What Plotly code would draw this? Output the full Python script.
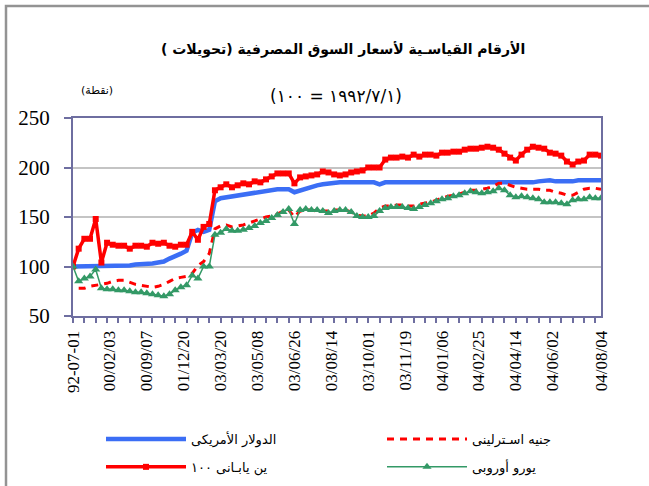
import plotly.graph_objects as go

# category index of each observation (equally spaced categories on the original axis)
idx = list(range(0, 187, 2))
gbp_idx = list(range(2, 187, 2))

usd = [100,100,101,101,101,101,101,101,101,101,
       101,102,102,103,103,104,105,108,110,113,
       116,134,137,135,137,166,169,170,171,172,
       173,174,175,176,177,177,178,178,178,175,
       177,179,181,182,183,184,184,185,185,185,
       185,185,185,185,183,185,185,185,185,184,
       185,185,185,185,184,185,185,185,185,185,
       185,185,185,185,185,185,185,185,185,185,
       185,185,186,187,187,186,186,185,186,187,
       187,187,187,187]

jpy = [100,118,128,128,148,104,124,122,121,121,
       118,121,121,120,124,123,124,121,120,122,
       122,135,127,140,143,177,180,183,180,182,
       184,183,186,185,188,191,194,194,194,184,
       190,191,192,193,196,195,193,192,193,195,
       196,197,200,200,200,208,210,210,211,210,
       213,211,213,213,212,215,215,216,216,218,
       219,219,220,221,220,218,214,210,207,213,
       218,221,220,219,215,214,212,206,203,206,
       207,213,213,212]

gbp = [78,78,80,81,82,83,85,86,86,84,
       82,81,80,79,80,82,85,88,89,90,
       93,101,105,113,138,141,142,140,141,142,
       144,146,148,150,151,153,156,157,150,156,
       157,157,156,156,156,157,157,157,155,152,
       151,151,154,159,161,161,162,162,161,161,
       163,164,165,167,169,171,172,173,175,177,
       177,178,179,181,184,184,182,180,179,178,
       178,178,177,177,175,174,172,172,175,178,
       179,179,178]

eur = [100,85,88,90,97,78,77,77,76,76,
       75,74,74,73,72,71,70,72,76,79,
       81,91,88,100,100,132,134,138,136,136,
       137,139,141,144,146,149,152,155,158,143,
       157,158,157,157,156,154,156,157,157,155,
       151,150,150,151,156,159,160,160,160,159,
       158,160,162,164,166,168,169,171,172,174,
       176,175,174,175,176,179,177,172,170,171,
       170,169,168,165,165,165,164,163,167,168,
       168,170,169,169]

tick_pos = [0, 13, 26, 39, 52, 65, 78, 91, 104, 117, 130, 143, 156, 169, 186]
tick_text = ["92-07-01", "00/02/03", "00/09/07", "01/12/20", "03/03/20", "03/05/08",
             "03/06/26", "03/08/14", "03/10/01", "03/11/19", "04/01/06", "04/02/25",
             "04/04/14", "04/06/02", "04/08/04"]
y_ticks = [50, 100, 150, 200, 250]

name_usd = "الدولار الأمريكى"
name_jpy = "ين يابـانى ١٠٠"
name_gbp = "جنيه اسـترلينى"
name_eur = "يورو أوروبى"

title_text = "الأرقام القياسـية لأسعار السوق المصرفية (تحويلات )\u200f"
subtitle_text = "\u202d(١٠٠ = ١٩٩٢/٧/١)\u202c"
unit_text = "(نقطة)"

SLATE = "#6e6ea0"
AR_FONT = "DejaVu Sans"
SERIF = "Liberation Serif"

fig = go.Figure()
fig.add_trace(go.Scatter(x=idx, y=usd, name=name_usd, mode="lines",
                         line=dict(color="#3b6ef5", width=4.5),
                         legend="legend", legendgroup="a"))
fig.add_trace(go.Scatter(x=idx, y=jpy, name=name_jpy, mode="lines+markers",
                         line=dict(color="#ff0000", width=3.5),
                         marker=dict(symbol="square", size=6, color="#ff0000"),
                         legend="legend", legendgroup="b"))
fig.add_trace(go.Scatter(x=gbp_idx, y=gbp, name=name_gbp, mode="lines",
                         line=dict(color="#ff0000", width=3, dash="7px,6px"),
                         legend="legend2", legendgroup="c"))
fig.add_trace(go.Scatter(x=idx, y=eur, name=name_eur, mode="lines+markers",
                         line=dict(color="#339966", width=1.5),
                         marker=dict(symbol="triangle-up", size=8, color="#339966"),
                         legend="legend2", legendgroup="d"))

L, R, T, B = 73, 48, 118, 170
W, H = 649, 486
pw, ph = W - L - R, H - T - B

def px(xp):
    return (xp - L) / pw

def py(yp):
    return (H - B - yp) / ph

fig.update_layout(
    width=W, height=H,
    margin=dict(l=L, r=R, t=T, b=B, pad=0, autoexpand=False),
    paper_bgcolor="white", plot_bgcolor="white",
    xaxis=dict(range=[0, 186], tickmode="array", tickvals=tick_pos, ticktext=tick_text,
               tickangle=-90, ticks="", showgrid=False, zeroline=False,
               showline=True, linecolor=SLATE, linewidth=2, mirror=True,
               ticklabelstandoff=6, automargin=False,
               tickfont=dict(family=SERIF, size=17, color="black"),
               minor=dict(tickmode="linear", tick0=0, dtick=4, ticks="outside",
                          ticklen=5, tickcolor=SLATE, tickwidth=1.5, showgrid=False)),
    yaxis=dict(range=[50, 250], tickmode="array", tickvals=y_ticks,
               ticks="outside", ticklen=7, tickcolor=SLATE, tickwidth=1.5,
               showgrid=True, gridcolor="#c4c4c4", gridwidth=1.5, zeroline=False,
               showline=True, linecolor=SLATE, linewidth=2, mirror=True,
               ticklabelstandoff=10, automargin=False,
               tickfont=dict(family=SERIF, size=21, color="black")),
    legend=dict(x=px(101), y=py(424), xanchor="left", yanchor="top",
                orientation="v", itemwidth=80, tracegroupgap=8,
                font=dict(family=AR_FONT, size=13, color="black"),
                bgcolor="rgba(0,0,0,0)"),
    legend2=dict(x=px(382), y=py(424), xanchor="left", yanchor="top",
                 orientation="v", itemwidth=80, tracegroupgap=8,
                 font=dict(family=AR_FONT, size=13, color="black"),
                 bgcolor="rgba(0,0,0,0)"),
    showlegend=True,
    annotations=[
        dict(text=title_text, x=px(343), y=py(49), xref="paper", yref="paper",
             showarrow=False, xanchor="center", yanchor="middle",
             font=dict(family=AR_FONT, size=14, color="black", weight="bold")),
        dict(text=subtitle_text, x=px(336), y=py(96), xref="paper", yref="paper",
             showarrow=False, xanchor="center", yanchor="middle",
             font=dict(family=AR_FONT, size=17, color="black")),
        dict(text=unit_text, x=px(97), y=py(91), xref="paper", yref="paper",
             showarrow=False, xanchor="center", yanchor="middle",
             font=dict(family=AR_FONT, size=11, color="black")),
    ],
    shapes=[dict(type="rect", xref="paper", yref="paper",
                 x0=px(6), x1=px(660), y0=py(496), y1=py(6),
                 line=dict(color="#939393", width=2.5), layer="below")],
)

fig.write_html("out.html", config={"displayModeBar": False},
               post_script="document.body.style.margin='0';document.body.style.overflow='hidden';")
